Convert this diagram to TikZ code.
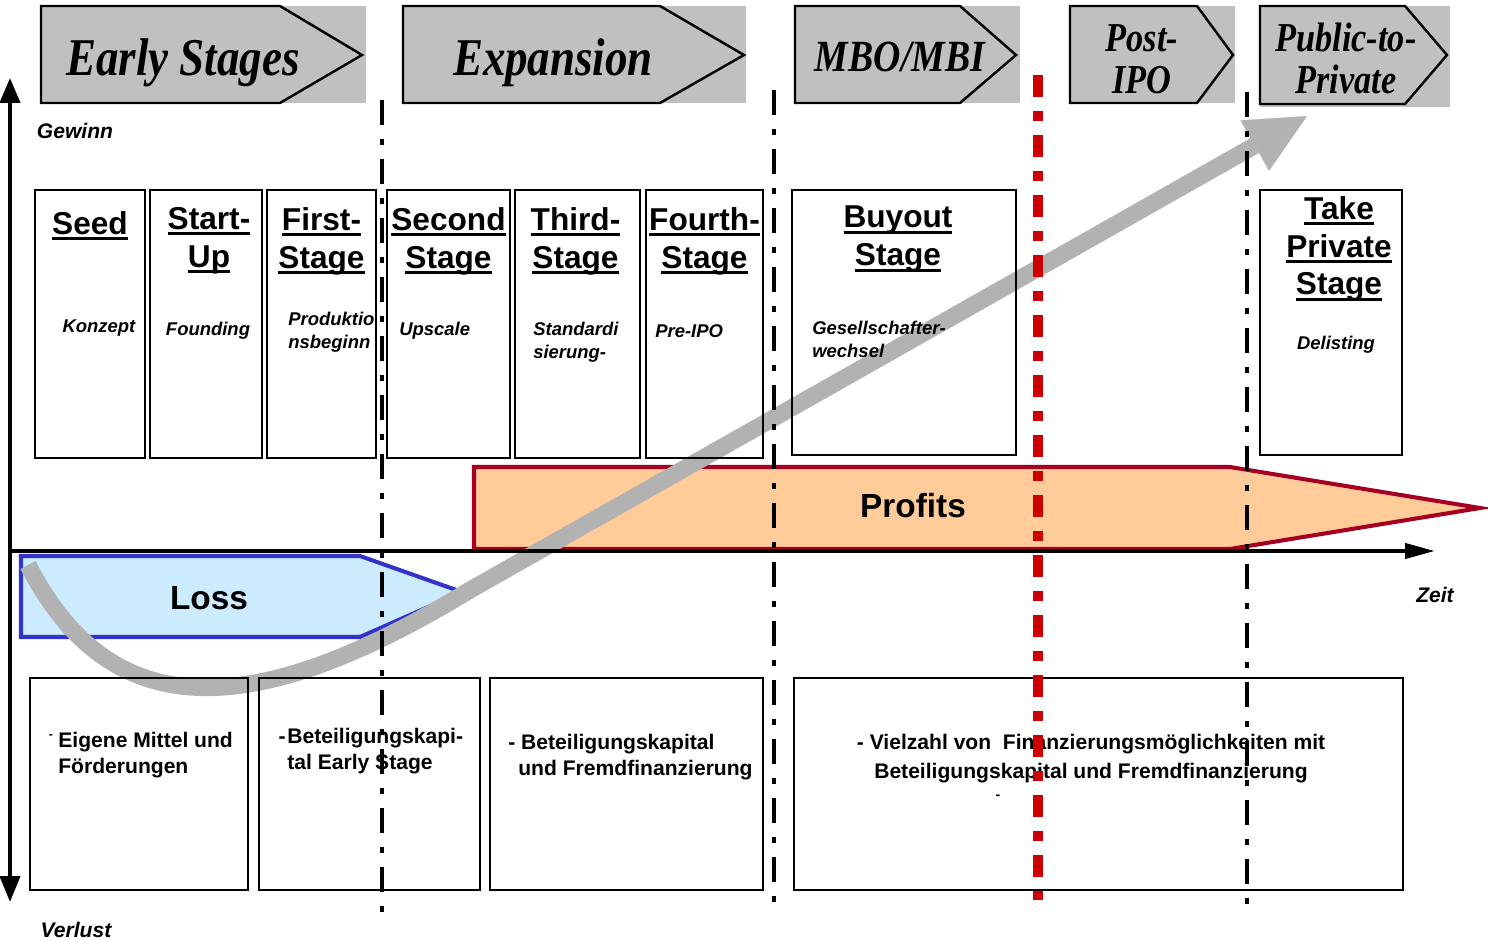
\documentclass[tikz,border=0pt]{standalone}
\usepackage{fontspec}
\setmainfont{Liberation Sans}
\newfontfamily\bannerfont{Liberation Serif}
\usepackage{graphicx}
\usetikzlibrary{arrows.meta, positioning}

\definecolor{bannergray}{HTML}{C0C0C0}
\definecolor{curvegray}{HTML}{B2B2B2}
\definecolor{profitfill}{HTML}{FFCC99}
\definecolor{profitline}{HTML}{A50021}
\definecolor{lossfill}{HTML}{CCEBFF}
\definecolor{lossline}{HTML}{3333CC}
\definecolor{cutred}{HTML}{CC0000}

\newcommand{\stageul}[1]{\setbox0=\hbox{#1}\rlap{\rule[-3.4pt]{\wd0}{1.7pt}}\box0}

\tikzstyle{banner} = [fill=bannergray]
\tikzstyle{bannerline} = [draw=black, line width=1.4pt]
\tikzstyle{bannerbig} = [font=\bannerfont\bfseries\itshape\fontsize{25.6}{28}\selectfont, inner sep=0]
\tikzstyle{bannersmall} = [font=\bannerfont\bfseries\itshape\fontsize{19.5}{20}\selectfont, inner sep=0]
\tikzstyle{stage} = [rectangle, draw=black, line width=1.4pt, minimum height=5.36cm]
\tikzstyle{stagetitle} = [font=\fontsize{18}{21.6}\selectfont\bfseries, align=center, anchor=north, inner sep=0]
\tikzstyle{subtitle} = [font=\fontsize{10.5}{13}\selectfont\bfseries\itshape, align=left, inner sep=0]
\tikzstyle{finance} = [rectangle, draw=black, line width=1.4pt, minimum height=4.24cm]
\tikzstyle{fintext} = [font=\fontsize{12}{14.8}\selectfont\bfseries, align=left, anchor=west, inner sep=0]
\tikzstyle{axislabel} = [font=\fontsize{12}{14}\selectfont\bfseries\itshape, inner sep=0]
\tikzstyle{bigtext} = [font=\fontsize{19}{22}\selectfont\bfseries, inner sep=0]
\tikzstyle{phaseline} = [line width=2.8pt, dash pattern=on 0.5cm off 0.28cm on 0.12cm off 0.28cm]
\tikzstyle{cutline} = [cutred, line width=5.7pt, dash pattern=on 0.44cm off 0.28cm on 0.2cm off 0.28cm]
\tikzstyle{axisline} = [line width=2.3pt]

\begin{document}
\begin{tikzpicture}[x=0.02cm, y=-0.02cm]
\useasboundingbox (0,0) rectangle (1488,940);

% phase banners
\fill[banner] (41,6) rectangle (366,103);
\draw[bannerline] (41,6) -- (280,6) -- (362,55) -- (280,103) -- (41,103) -- cycle;
\node[bannerbig] (early) at (183,63) {\scalebox{1}[1.18]{Early Stages}};

\fill[banner] (403,6) rectangle (746,103);
\draw[bannerline] (403,6) -- (660,6) -- (744,55) -- (660,103) -- (403,103) -- cycle;
\node[bannerbig] (expansion) at (553,63) {\scalebox{1}[1.18]{Expansion}};

\fill[banner] (795,6) rectangle (1020,103);
\draw[bannerline] (795,6) -- (960,6) -- (1016,55) -- (960,103) -- (795,103) -- cycle;
\node[bannerbig, font=\bannerfont\bfseries\itshape\fontsize{21.5}{24}\selectfont] (mbo) at (900,57) {\scalebox{1}[1.18]{MBO/MBI}};

\fill[banner] (1070,6) rectangle (1235,103);
\draw[bannerline] (1070,6) -- (1197,6) -- (1233,55) -- (1197,103) -- (1070,103) -- cycle;
\node[bannersmall] (postipo) at (1142,64) {\scalebox{1}[1.2]{\begin{tabular}{@{}c@{}}Post-\\IPO\end{tabular}}};

\fill[banner] (1260,6) rectangle (1450,107);
\draw[bannerline] (1260,6) -- (1405,6) -- (1447,55) -- (1405,104) -- (1260,104) -- cycle;
\node[bannersmall] (ptp) at (1346,64) {\scalebox{1}[1.2]{\begin{tabular}{@{}c@{}}Public-to-\\Private\end{tabular}}};

% profit and loss arrows
\draw[profitline, fill=profitfill, line width=2.3pt] (474,467) -- (1230,467) -- (1480,508) -- (1230,549) -- (474,549) -- cycle;
\node[bigtext] (profits) at (913,506) {Profits};
\draw[lossline, fill=lossfill, line width=2.3pt] (21,556) -- (360,556) -- (462,592) -- (360,637) -- (21,637) -- cycle;
\node[bigtext] (loss) at (209,598) {Loss};

% j-curve
\draw[curvegray, line width=9.7pt, -{Triangle[length=1.2cm, width=1.16cm, line width=0.1pt]}] (28,565) .. controls (110,724) and (250,724) .. (470,590) -- (1307,116);

% stage boxes
\node[stage, minimum width=2.2cm] (seed) at (90,324) {};
\node[stage, minimum width=2.24cm] (startup) at (206,324) {};
\node[stage, minimum width=2.18cm] (first) at (321.5,324) {};
\node[stage, minimum width=2.46cm] (second) at (448.5,324) {};
\node[stage, minimum width=2.5cm] (third) at (577.5,324) {};
\node[stage, minimum width=2.34cm] (fourth) at (704.5,324) {};
\node[stage, minimum width=4.48cm, minimum height=5.3cm] (buyout) at (904,322.5) {};
\node[stage, minimum width=2.84cm, minimum height=5.3cm] (take) at (1331,322.5) {};

\node[stagetitle, below=0.44cm of seed.north] (seedT) {\stageul{Seed}};
\node[stagetitle, below=0.36cm of startup.north, xshift=0.06cm] (startupT) {\stageul{Start-}\\\stageul{Up}};
\node[stagetitle, below=0.36cm of first.north] (firstT) {\stageul{First-}\\\stageul{Stage}};
\node[stagetitle, below=0.36cm of second.north] (secondT) {\stageul{Second}\\\stageul{Stage}};
\node[stagetitle, below=0.36cm of third.north, xshift=-0.04cm] (thirdT) {\stageul{Third-}\\\stageul{Stage}};
\node[stagetitle, below=0.36cm of fourth.north] (fourthT) {\stageul{Fourth-}\\\stageul{Stage}};
\node[stagetitle, below=0.34cm of buyout.north, xshift=-0.12cm] (buyoutT) {\stageul{Buyout}\\\stageul{Stage}};
\node[stagetitle, below=0.14cm of take.north, xshift=0.16cm] (takeT) {\stageul{Take}\\\stageul{Private}\\\stageul{Stage}};

\node[subtitle] (konzept) at (99,328) {Konzept};
\node[subtitle] (founding) at (208,331) {Founding};
\node[subtitle, anchor=north west] (produktion) at (288,312) {Produktio\\nsbeginn};
\node[subtitle, anchor=west] (upscale) at (399,331) {Upscale};
\node[subtitle, anchor=north west] (standard) at (533,322) {Standardi\\sierung-};
\node[subtitle, anchor=west] (preipo) at (655,331) {Pre-IPO};
\node[subtitle, anchor=north west] (wechsel) at (812,321) {Gesellschafter-\\wechsel};
\node[subtitle] (delisting) at (1336,345) {Delisting};

% financing boxes
\node[finance, minimum width=4.36cm] (fin1) at (139,784) {};
\node[finance, minimum width=4.42cm] (fin2) at (369.5,784) {};
\node[finance, minimum width=5.46cm] (fin3) at (626.5,784) {};
\node[finance, minimum width=12.18cm] (fin4) at (1098.5,784) {};

\node[fintext] (fin1T) at (58,755) {\llap{\raisebox{5pt}{\fontsize{7}{8}\selectfont -}\hspace{3pt}}Eigene Mittel und\\Förderungen};
\node[fintext] (fin2T) at (287,751) {\llap{-\hspace{1pt}}Beteiligungskapi-\\tal Early Stage};
\node[fintext] (fin3T) at (508,757) {- Beteiligungskapital\\\hspace*{0.2cm}und Fremdfinanzierung};
\node[fintext, anchor=center, align=center, font=\fontsize{12}{16.5}\selectfont\bfseries] (fin4T) at (1091,759) {- Vielzahl von~ Finanzierungsmöglichkeiten mit\\Beteiligungskapital und Fremdfinanzierung};
\node[font=\fontsize{8}{9}\selectfont\bfseries, inner sep=0] (fin4dash) at (998,797) {-};

% phase borders
\draw[phaseline] (382,100) -- (382,922);
\draw[phaseline] (774,90) -- (774,912);
\draw[phaseline] (1247,92) -- (1247,912);
\draw[cutline] (1038,75) -- (1038,900);

% axes
\draw[axisline, {Triangle[length=0.5cm, width=0.4cm]}-{Triangle[length=0.52cm, width=0.4cm]}] (10,78) -- (10,902);
\draw[axisline, -{Triangle[length=0.6cm, width=0.3cm]}] (8,551) -- (1435,551);
\node[axislabel] (gewinn) at (75,131) {Gewinn};
\node[axislabel] (verlust) at (76,930) {Verlust};
\node[axislabel] (zeit) at (1435,595) {Zeit};

\end{tikzpicture}
\end{document}
